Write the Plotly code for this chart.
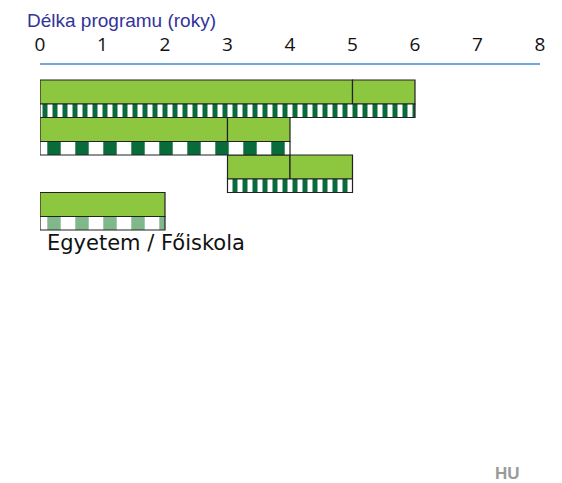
import plotly.graph_objects as go

# rows of the chart, top to bottom
rows = [0, 1, 2, 3]

# green (solid) segments per row: start year and length
green_start = [[0, 5], [0, 3], [3, 4], [0]]
green_len = [[5, 1], [3, 1], [1, 1], [2]]

# striped bar under each row
stripe_start = [0, 0, 3, 0]
stripe_len = [6, 4, 2, 2]
stripe_kind = ["narrow", "wide", "narrow", "light"]

x_ticks = [0, 1, 2, 3, 4, 5, 6, 7, 8]

GREEN = "#8dc63f"
DARK = "#0a6b3a"
LIGHT = "#80b88c"
EDGE = "#222222"

styles = {
    "narrow": dict(fg=DARK, size=10, solidity=0.5),
    "wide": dict(fg=DARK, size=28, solidity=0.48),
    "light": dict(fg=LIGHT, size=28, solidity=0.48),
}

GH = 0.64  # green bar height (row units)
SH = 0.36  # stripe bar height

# the page body adds an 8px offset, so the figure is 8px smaller than the window
W, H = 554, 475

fig = go.Figure()

for r, starts, lens in zip(rows, green_start, green_len):
    fig.add_trace(
        go.Bar(
            orientation="h",
            y=[r + GH / 2] * len(starts),
            x=lens,
            base=starts,
            width=GH,
            marker=dict(color=GREEN, line=dict(color=EDGE, width=1.2)),
            showlegend=False,
            hoverinfo="skip",
        )
    )

for r, s, l, k in zip(rows, stripe_start, stripe_len, stripe_kind):
    st = styles[k]
    fig.add_trace(
        go.Bar(
            orientation="h",
            y=[r + GH + SH / 2],
            x=[l],
            base=[s],
            width=SH,
            marker=dict(
                color="white",
                line=dict(color=EDGE, width=1.2),
                pattern=dict(
                    shape="|",
                    fgcolor=st["fg"],
                    fgopacity=1,
                    bgcolor="white",
                    size=st["size"],
                    solidity=st["solidity"],
                    fillmode="overlay",
                ),
            ),
            showlegend=False,
            hoverinfo="skip",
        )
    )

fig.add_annotation(
    x=0,
    y=4.35,
    xref="x",
    yref="y",
    text="Egyetem / Főiskola",
    showarrow=False,
    xanchor="left",
    yanchor="middle",
    xshift=5,
    font=dict(family="DejaVu Sans", size=21, color="#111111"),
)

fig.add_annotation(
    x=(507 - 40) / 500,
    y=(483 - 473) / 418,
    xref="paper",
    yref="paper",
    text="<b>HU</b>",
    showarrow=False,
    xanchor="center",
    yanchor="middle",
    font=dict(family="Liberation Sans", size=17, color="#9a9a9a"),
)

fig.update_layout(
    width=W,
    height=H,
    plot_bgcolor="white",
    paper_bgcolor="white",
    margin=dict(l=32, r=22, t=57, b=0, autoexpand=False),
    barmode="overlay",
    title=dict(
        text="Délka programu (roky)",
        x=19 / W,
        xanchor="left",
        xref="container",
        y=1 - 12.5 / H,
        yanchor="middle",
        font=dict(family="Liberation Sans", size=19, color="#333399"),
    ),
)

fig.update_xaxes(
    range=[0, 8],
    side="top",
    tickvals=x_ticks,
    ticktext=[str(t) for t in x_ticks],
    showgrid=False,
    zeroline=False,
    showline=True,
    linecolor="#6fa8dc",
    linewidth=1.5,
    ticks="outside",
    ticklen=5,
    tickcolor="white",
    tickfont=dict(family="Open Sans", size=19, color="#111111"),
)

fig.update_yaxes(
    range=[10.747, -0.4],
    showgrid=False,
    zeroline=False,
    showline=False,
    showticklabels=False,
)

fig.write_html("out.html")
